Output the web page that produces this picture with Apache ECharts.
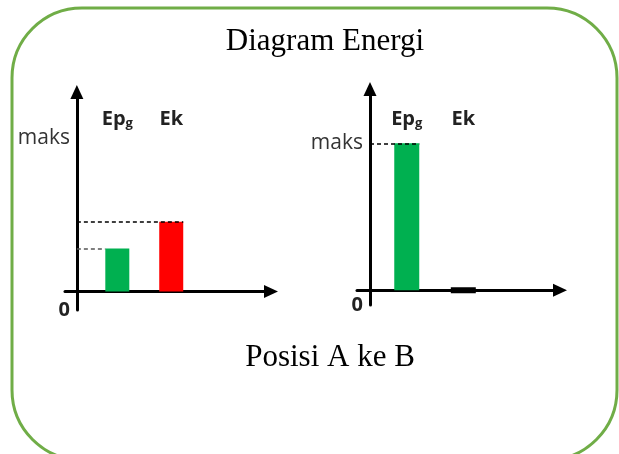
<!DOCTYPE html>
<html lang="id">
<head>
    <meta charset="UTF-8">
    <title>Diagram Energi</title>
    <script src="https://cdn.jsdelivr.net/npm/echarts@6/dist/echarts.min.js"></script>
    <style>
        html, body { margin: 0; padding: 0; background: #fff; }
    </style>
</head>
<body>
    <div id="main" style="width: 619px; height: 454px;"></div>
    <script>
        // bar names (top labels), shared by both panels
        var barNames = ['Ep{sub|g}', 'Ek'];
        // left panel: before (posisi A)
        var leftPos = [0.75, 1.75];
        var leftVal = [0.28, 0.455];
        // right panel: after (posisi B)
        var rightPos = [0.65, 1.65];
        var rightVal = [1, 0];
        var maks = 1;

        var green = '#00b050';
        var red = '#ff0000';

        var myChart = echarts.init(document.getElementById('main'));

        var grids = [
            {left: 65, top: 92, width: 206, height: 218},
            {left: 357, top: 89, width: 203, height: 216}
        ];
        var xRange = [[-0.22, 3.6], [-0.23, 3.36]];
        var yRange = [[-0.12, 1.3], [-0.10, 1.37]];
        var barWidth = [24, 25];

        function halfBar(i) {
            // half a bar, in x-axis units
            var pxPerUnit = grids[i].width / (xRange[i][1] - xRange[i][0]);
            return barWidth[i] / 2 / pxPerUnit;
        }

        var labelFont = '"Open Sans", sans-serif';

        function nameAt(pos, v) {
            var best = 0;
            for (var k = 1; k < pos.length; k++) {
                if (Math.abs(pos[k] - v) < Math.abs(pos[best] - v)) best = k;
            }
            return barNames[best];
        }

        function bottomX(i) {
            return {
                type: 'value', gridIndex: i,
                min: xRange[i][0], max: xRange[i][1],
                axisLine: {
                    show: true, onZero: true,
                    symbol: ['none', 'triangle'], symbolSize: [13, 14],
                    lineStyle: {color: '#000', width: 3}
                },
                axisTick: {show: false},
                axisLabel: {show: false},
                splitLine: {show: false}
            };
        }

        function topX(i, pos, margin) {
            return {
                type: 'value', gridIndex: i, position: 'top',
                min: xRange[i][0], max: xRange[i][1],
                axisLine: {show: false, onZero: false},
                axisTick: {show: false},
                splitLine: {show: false},
                axisLabel: {
                    show: true, inside: true, margin: margin,
                    showMinLabel: true, showMaxLabel: true,
                    customValues: pos,
                    formatter: function (v) { return nameAt(pos, v); },
                    color: '#222', fontFamily: labelFont, fontWeight: 'bold', fontSize: 20,
                    lineHeight: 22,
                    rich: {
                        sub: {fontFamily: labelFont, fontWeight: 'bold', fontSize: 13, color: '#222',
                              verticalAlign: 'bottom', padding: [10, 0, 0, 0]}
                    }
                }
            };
        }

        function leftY(i, margin) {
            return {
                type: 'value', gridIndex: i,
                min: yRange[i][0], max: yRange[i][1],
                axisLine: {
                    show: true, onZero: true,
                    symbol: ['none', 'triangle'], symbolSize: [13, 14],
                    lineStyle: {color: '#000', width: 3}
                },
                axisTick: {show: false},
                splitLine: {show: false},
                axisLabel: {
                    show: true, margin: margin, showMinLabel: true,
                    customValues: [yRange[i][0], maks],
                    formatter: function (v) { return v < 0 ? '{z|0}' : 'maks'; },
                    color: '#333', fontFamily: labelFont, fontSize: 21,
                    rich: {
                        z: {fontFamily: labelFont, fontWeight: 'bold', fontSize: 20, color: '#222'}
                    }
                }
            };
        }

        function dash(x0, x1, v, color) {
            return [
                {coord: [x0, v], lineStyle: {color: color}},
                {coord: [x1, v]}
            ];
        }

        var option = {
            animation: false,
            backgroundColor: '#fff',
            title: [
                {
                    text: 'Diagram Energi', left: 325, top: 26, textAlign: 'center', padding: 0,
                    textStyle: {fontFamily: '"Liberation Serif", serif', fontWeight: 'normal', fontSize: 31, color: '#000'}
                },
                {
                    text: 'Posisi A ke B', left: 330, top: 342, textAlign: 'center', padding: 0,
                    textStyle: {fontFamily: '"Liberation Serif", serif', fontWeight: 'normal', fontSize: 31, color: '#000'}
                }
            ],
            graphic: [{
                type: 'rect', silent: true, z: -1,
                shape: {x: 12, y: 8, width: 605, height: 452, r: 70},
                style: {fill: 'none', stroke: '#70ad47', lineWidth: 3}
            }],
            grid: grids,
            xAxis: [bottomX(0), topX(0, leftPos, 16), bottomX(1), topX(1, rightPos, 19)],
            yAxis: [leftY(0, -5), leftY(1, -6)],
            series: [
                {
                    type: 'bar', xAxisIndex: 0, yAxisIndex: 0, barWidth: barWidth[0],
                    data: [
                        {value: [leftPos[0], leftVal[0]], itemStyle: {color: green}},
                        {value: [leftPos[1], leftVal[1]], itemStyle: {color: red}}
                    ],
                    markLine: {
                        silent: true, symbol: 'none', label: {show: false},
                        lineStyle: {type: [4, 3], width: 1.5},
                        data: [
                            dash(0, leftPos[0] - halfBar(0), leftVal[0], '#555'),
                            dash(0, leftPos[1] + halfBar(0), leftVal[1], '#000')
                        ]
                    }
                },
                {
                    type: 'bar', xAxisIndex: 2, yAxisIndex: 1, barWidth: barWidth[1],
                    data: [
                        {value: [rightPos[0], rightVal[0]], itemStyle: {color: green}},
                        {value: [rightPos[1], rightVal[1]], itemStyle: {color: '#000', borderColor: '#000', borderWidth: 6}}
                    ],
                    markLine: {
                        silent: true, symbol: 'none', label: {show: false},
                        lineStyle: {type: [4, 3], width: 1.5},
                        data: [
                            dash(0, rightPos[0] + halfBar(1), rightVal[0], '#000')
                        ]
                    }
                }
            ]
        };

        myChart.setOption(option);
    </script>
</body>
</html>
